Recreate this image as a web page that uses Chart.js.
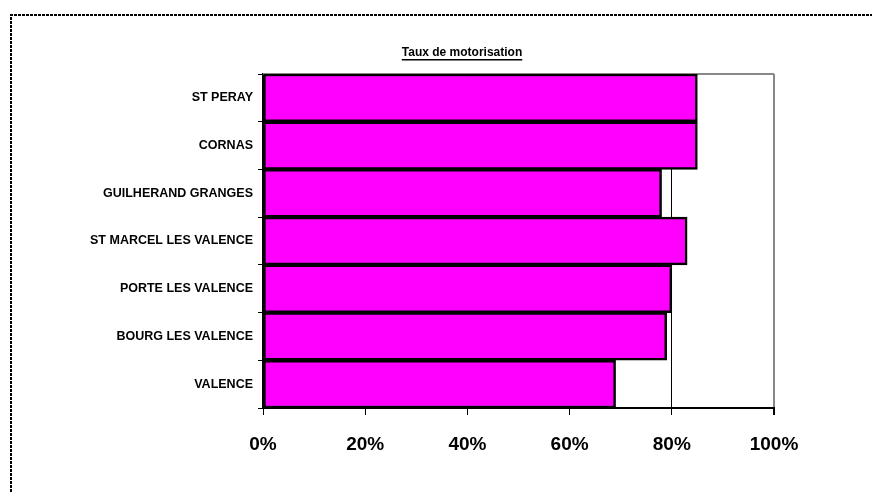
<!DOCTYPE html>
<html>
<head>
<meta charset="utf-8">
<script src="https://cdn.jsdelivr.net/npm/chart.js@4.4.1/dist/chart.umd.min.js"></script>
<style>
  html, body { margin: 0; padding: 0; background: #fff; }
  #wrap { position: relative; width: 872px; height: 492px; }
</style>
</head>
<body>
<div id="wrap"><canvas id="chart" width="872" height="492"></canvas></div>
<script>
const communes = ['ST PERAY', 'CORNAS', 'GUILHERAND GRANGES', 'ST MARCEL LES VALENCE', 'PORTE LES VALENCE', 'BOURG LES VALENCE', 'VALENCE'];
const taux = [85, 85, 78, 83, 80, 79, 69];
const titre = 'Taux de motorisation';

const FONT = "'Liberation Sans', Arial, sans-serif";

// cadre pointillé, bord haut du tracé, titre souligné
const decor = {
  id: 'decor',
  beforeDraw(chart) {
    const c = chart.ctx;
    c.save();
    c.fillStyle = '#fff';
    c.fillRect(0, 0, chart.width, chart.height);
    c.strokeStyle = '#000';
    c.lineWidth = 2;
    c.setLineDash([3, 1]);
    c.beginPath();
    c.moveTo(11, chart.height);
    c.lineTo(11, 15);
    c.lineTo(chart.width, 15);
    c.stroke();
    c.restore();
  },
  beforeDatasetsDraw(chart) {
    const { ctx, chartArea: a } = chart;
    ctx.save();
    ctx.strokeStyle = '#888';
    ctx.lineWidth = 2;
    ctx.beginPath();
    ctx.moveTo(a.left, a.top);
    ctx.lineTo(a.right, a.top);
    ctx.stroke();
    ctx.restore();
  },
  afterDraw(chart) {
    const { ctx, chartArea: a } = chart;
    const x = 462, y = a.top - 18;
    ctx.save();
    ctx.font = 'bold 12px ' + FONT;
    ctx.fillStyle = '#000';
    ctx.textAlign = 'center';
    ctx.textBaseline = 'alphabetic';
    ctx.fillText(titre, x, y);
    const w = ctx.measureText(titre).width;
    ctx.fillRect(x - w / 2, y + 3, w, 1.5);
    ctx.restore();
  }
};

new Chart(document.getElementById('chart'), {
  type: 'bar',
  data: {
    labels: communes,
    datasets: [{
      data: taux,
      backgroundColor: '#FF00FF',
      borderColor: '#000',
      borderWidth: 2.5,
      borderSkipped: false,
      barPercentage: 1,
      categoryPercentage: 1
    }]
  },
  options: {
    indexAxis: 'y',
    responsive: false,
    animation: false,
    layout: { padding: { left: 0, right: 98, top: 74, bottom: 24 } },
    plugins: {
      legend: { display: false },
      tooltip: { enabled: false },
      title: { display: false }
    },
    scales: {
      x: {
        min: 0,
        max: 100,
        afterFit: (s) => { s.height = 60; },
        ticks: {
          stepSize: 20,
          callback: (v) => v + '%',
          color: '#000',
          padding: 18,
          maxRotation: 0,
          font: { family: FONT, size: 19, weight: 'bold' }
        },
        grid: {
          color: (c) => (c.tick && c.tick.value === 100 ? '#888' : '#000'),
          lineWidth: (c) => (c.tick && c.tick.value === 100 ? 2 : 1),
          tickColor: '#000',
          tickLength: 7
        },
        border: { color: '#000', width: 2 }
      },
      y: {
        afterFit: (s) => { s.width = 263; },
        ticks: {
          color: '#000',
          padding: 5,
          font: { family: FONT, size: 12.5, weight: 'bold' }
        },
        grid: {
          drawOnChartArea: false,
          tickColor: '#000',
          tickLength: 5
        },
        border: { color: '#000', width: 2 }
      }
    }
  },
  plugins: [decor]
});
</script>
</body>
</html>
